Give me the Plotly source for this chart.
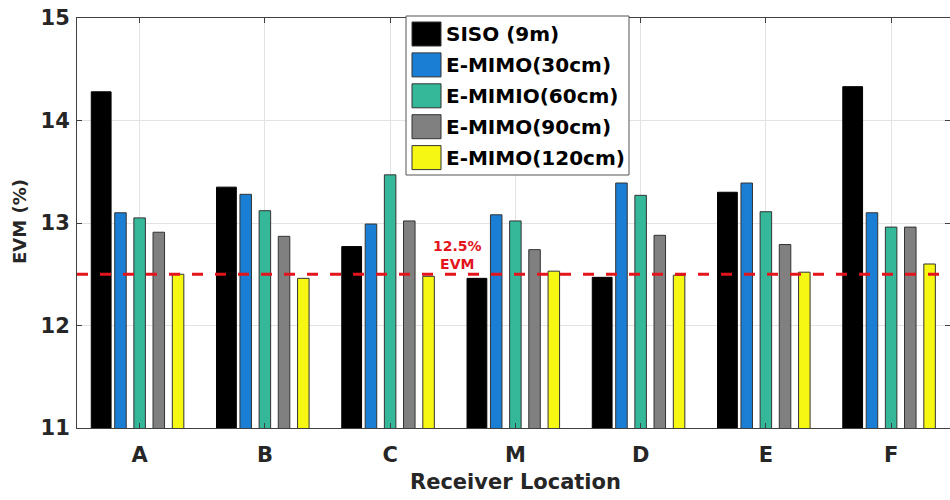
import plotly.graph_objects as go

# Receiver locations and EVM (%) per configuration
locations = ["A", "B", "C", "M", "D", "E", "F"]
series_names = ["SISO (9m)", "E-MIMO(30cm)", "E-MIMIO(60cm)", "E-MIMO(90cm)", "E-MIMO(120cm)"]
evm_siso = [14.28, 13.35, 12.77, 12.46, 12.47, 13.30, 14.33]
evm_30cm = [13.10, 13.28, 12.99, 13.08, 13.39, 13.39, 13.10]
evm_60cm = [13.05, 13.12, 13.47, 13.02, 13.27, 13.11, 12.96]
evm_90cm = [12.91, 12.87, 13.02, 12.74, 12.88, 12.79, 12.96]
evm_120cm = [12.50, 12.46, 12.48, 12.53, 12.49, 12.52, 12.60]
evm_threshold = 12.5
y_ticks = [11, 12, 13, 14, 15]

series_values = [evm_siso, evm_30cm, evm_60cm, evm_90cm, evm_120cm]
colors = ["#000000", "#1A7FD4", "#35B79A", "#808080", "#F7F714"]
edge_colors = ["#000000", "#333333", "#333333", "#333333", "#333333"]
centers = [-0.307, -0.153, 0.0, 0.153, 0.307]
widths = [0.158, 0.092, 0.092, 0.092, 0.092]

FONT = "DejaVu Sans"
W, H = 950, 500
L, R, T, B = 77, 0, 18, 72
PW, PH = W - L - R, H - T - B


def px_x(x):
    return (x - L) / PW


def px_y(y):
    return (H - B - y) / PH


fig = go.Figure()
for name, vals, col, ecol, c, w in zip(series_names, series_values, colors, edge_colors, centers, widths):
    fig.add_trace(go.Bar(
        x=locations, y=vals, name=name,
        offset=c - w / 2, width=w,
        marker=dict(color=col, line=dict(color=ecol, width=1)),
        showlegend=False,
    ))

# 12.5% EVM threshold
fig.add_shape(type="line", xref="paper", yref="y", x0=0, x1=1,
              y0=evm_threshold, y1=evm_threshold,
              line=dict(color="#E3141C", width=3, dash="11px,12px"), layer="above")
fig.add_annotation(x=2.54, y=12.69, xref="x", yref="y", showarrow=False,
                   xanchor="center", yanchor="middle",
                   text=f"{evm_threshold}%<br>EVM",
                   font=dict(family=FONT, size=14, color="#E3141C", weight="bold"))

# Legend box drawn in pixel layout
fig.add_shape(type="rect", xref="paper", yref="paper",
              x0=px_x(406), x1=px_x(629), y0=px_y(175), y1=px_y(16),
              line=dict(color="#555555", width=1), fillcolor="white", layer="above")
for i, (name, col) in enumerate(zip(series_names, colors)):
    cy = 34 + i * 30.9
    fig.add_shape(type="rect", xref="paper", yref="paper",
                  x0=px_x(412), x1=px_x(441), y0=px_y(cy + 12), y1=px_y(cy - 12),
                  line=dict(color="#333333", width=1), fillcolor=col, layer="above")
    fig.add_annotation(x=px_x(444), y=px_y(cy), xref="paper", yref="paper",
                       xanchor="left", yanchor="middle", showarrow=False, text=name,
                       font=dict(family=FONT, size=20, color="#000000", weight="bold"))

# Axis titles
fig.add_annotation(x=px_x(19), y=px_y(222), xref="paper", yref="paper", showarrow=False,
                   xanchor="center", yanchor="middle",
                   text="EVM (%)", textangle=-90,
                   font=dict(family=FONT, size=18, color="#262626", weight="bold"))
fig.add_annotation(x=px_x(515), y=px_y(482), xref="paper", yref="paper", showarrow=False,
                   xanchor="center", yanchor="middle",
                   text="Receiver Location",
                   font=dict(family=FONT, size=21, color="#262626", weight="bold"))

axis_common = dict(
    showline=True, linecolor="#404040", linewidth=1, mirror="allticks",
    ticks="inside", ticklen=5, tickcolor="#404040",
    showgrid=True, gridcolor="#E3E3E3", gridwidth=1, zeroline=False,
    tickfont=dict(family=FONT, size=21, color="#262626", weight="bold"),
)
fig.update_xaxes(type="category", range=[-0.5, 6.47], ticklabelstandoff=8, **axis_common)
fig.update_yaxes(range=[11, 15], tickvals=y_ticks, ticklabelstandoff=2, **axis_common)

fig.update_layout(
    width=W, height=H, barmode="overlay",
    margin=dict(l=L, r=R, t=T, b=B, autoexpand=False),
    plot_bgcolor="white", paper_bgcolor="white",
    font=dict(family=FONT),
)

fig.write_html("out.html")
